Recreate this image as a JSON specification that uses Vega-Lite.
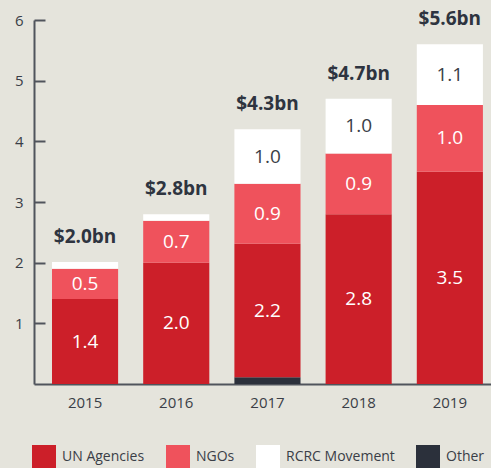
{
  "$schema": "https://vega.github.io/schema/vega-lite/v6.json",
  "autosize": "none",
  "width": 457,
  "height": 364,
  "padding": {"left": 34, "top": 20, "right": 0, "bottom": 84},
  "background": "#e5e4dc",
  "config": {"font": "Open Sans", "view": {"stroke": null}},
  "data": {"values": [
    {"year": "2015", "cat": "UN Agencies", "ord": 1, "value": 1.4, "label": "1.4"},
    {"year": "2015", "cat": "NGOs", "ord": 2, "value": 0.5, "label": "0.5"},
    {"year": "2015", "cat": "RCRC Movement", "ord": 3, "value": 0.11, "label": ""},
    {"year": "2016", "cat": "UN Agencies", "ord": 1, "value": 2.0, "label": "2.0"},
    {"year": "2016", "cat": "NGOs", "ord": 2, "value": 0.69, "label": "0.7"},
    {"year": "2016", "cat": "RCRC Movement", "ord": 3, "value": 0.11, "label": ""},
    {"year": "2017", "cat": "Other", "ord": 0, "value": 0.11, "label": ""},
    {"year": "2017", "cat": "UN Agencies", "ord": 1, "value": 2.2, "label": "2.2"},
    {"year": "2017", "cat": "NGOs", "ord": 2, "value": 0.99, "label": "0.9"},
    {"year": "2017", "cat": "RCRC Movement", "ord": 3, "value": 0.9, "label": "1.0"},
    {"year": "2018", "cat": "UN Agencies", "ord": 1, "value": 2.8, "label": "2.8"},
    {"year": "2018", "cat": "NGOs", "ord": 2, "value": 1.0, "label": "0.9"},
    {"year": "2018", "cat": "RCRC Movement", "ord": 3, "value": 0.9, "label": "1.0"},
    {"year": "2019", "cat": "UN Agencies", "ord": 1, "value": 3.5, "label": "3.5"},
    {"year": "2019", "cat": "NGOs", "ord": 2, "value": 1.1, "label": "1.0"},
    {"year": "2019", "cat": "RCRC Movement", "ord": 3, "value": 1.0, "label": "1.1"}
  ]},
  "encoding": {
    "x": {
      "field": "year", "type": "ordinal",
      "scale": {"paddingInner": 0.275, "paddingOuter": 0.143, "align": 0.69},
      "axis": {"title": null, "labelAngle": 0, "ticks": false, "domainColor": "#50545c", "domainWidth": 2, "labelFontSize": 15, "labelColor": "#3a3e47", "labelPadding": 11}
    }
  },
  "layer": [
    {
      "mark": {"type": "bar"},
      "encoding": {
        "y": {
          "field": "value", "type": "quantitative", "stack": "zero",
          "scale": {"domain": [0, 6], "nice": false},
          "axis": {"title": null, "values": [1, 2, 3, 4, 5, 6], "format": "d", "grid": false, "domainColor": "#50545c", "domainWidth": 2, "tickColor": "#50545c", "tickWidth": 2, "tickSize": -11, "labelFontSize": 15, "labelColor": "#3a3e47", "labelPadding": 22}
        },
        "color": {
          "field": "cat", "type": "nominal",
          "scale": {"domain": ["UN Agencies", "NGOs", "RCRC Movement", "Other"], "range": ["#cc1f29", "#ef525c", "#ffffff", "#2b303b"]},
          "legend": {"title": null, "orient": "none", "legendX": -2, "legendY": 425, "direction": "horizontal", "columns": 4, "symbolType": "square", "symbolSize": 576, "symbolStrokeWidth": 0, "symbolOpacity": 1, "labelFontSize": 14, "labelColor": "#3a3e47", "labelOffset": 6, "columnPadding": 21}
        },
        "order": {"field": "ord", "type": "quantitative"}
      }
    },
    {
      "mark": {"type": "text", "fontSize": 19, "baseline": "middle"},
      "encoding": {
        "y": {"field": "value", "type": "quantitative", "stack": "zero", "bandPosition": 0.5},
        "text": {"field": "label"},
        "order": {"field": "ord", "type": "quantitative"},
        "color": {"condition": {"test": "datum.cat === 'RCRC Movement'", "value": "#3a3e47"}, "value": "#ffffff"}
      }
    },
    {
      "data": {"values": [
        {"year": "2015", "total": 2.01, "tlabel": "$2.0bn"},
        {"year": "2016", "total": 2.8, "tlabel": "$2.8bn"},
        {"year": "2017", "total": 4.2, "tlabel": "$4.3bn"},
        {"year": "2018", "total": 4.7, "tlabel": "$4.7bn"},
        {"year": "2019", "total": 5.6, "tlabel": "$5.6bn"}
      ]},
      "mark": {"type": "text", "fontSize": 19, "fontWeight": "bold", "baseline": "alphabetic", "dy": -19, "color": "#2e3440"},
      "encoding": {
        "y": {"field": "total", "type": "quantitative"},
        "text": {"field": "tlabel"}
      }
    }
  ]
}
